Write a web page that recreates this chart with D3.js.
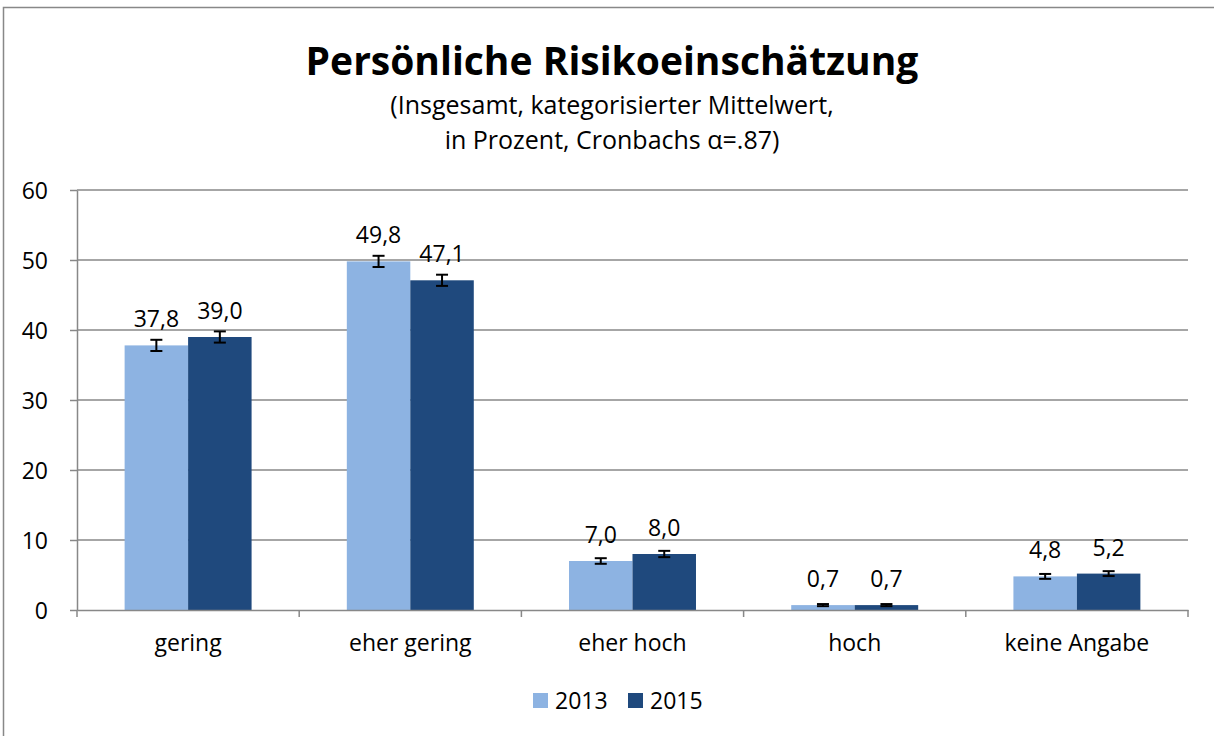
<!DOCTYPE html>
<html lang="de">
  <head>
    <meta charset="UTF-8" />
    <title>Persönliche Risikoeinschätzung</title>
    <script src="https://d3js.org/d3.v7.min.js"></script>
    <style>
      body { margin: 0; background: #fff; }
      text { font-family: "Open Sans", "Noto Sans", sans-serif; fill: #000; }
      .title { font-size: 39px; font-weight: bold; text-anchor: middle; }
      .subtitle { font-size: 25px; text-anchor: middle; }
      .axis text { font-size: 23px; }
      .axis path, .axis line { stroke: #888; stroke-width: 1.5; }
      .label { font-size: 23px; text-anchor: middle; }
    </style>
  </head>
  <body>
    <div id="chart"></div>
    <script>
      // Data
      const categories = ["gering", "eher gering", "eher hoch", "hoch", "keine Angabe"];
      const seriesNames = ["2013", "2015"];
      const values2013 = [37.8, 49.8, 7.0, 0.7, 4.8];
      const values2015 = [39.0, 47.1, 8.0, 0.7, 5.2];
      const errors2013 = [0.8, 0.8, 0.4, 0.15, 0.35];
      const errors2015 = [0.8, 0.8, 0.45, 0.15, 0.35];
      const yTicks = [0, 10, 20, 30, 40, 50, 60];

      const width = 1214;
      const height = 736;
      const margin = { top: 190, right: 26, bottom: 126, left: 77 };

      const colors = d3.scaleOrdinal().domain(seriesNames).range(["#8DB3E2", "#1F497D"]);

      const series = [
        { name: "2013", values: values2013, errors: errors2013 },
        { name: "2015", values: values2015, errors: errors2015 },
      ];

      const svg = d3.select("#chart")
        .append("svg")
        .attr("width", width)
        .attr("height", height);

      // Outer chart border
      svg.append("rect")
        .attr("x", 3.5).attr("y", 7.5)
        .attr("width", width + 10).attr("height", height + 10)
        .attr("fill", "none")
        .attr("stroke", "#888")
        .attr("stroke-width", 1.5);

      // Title
      svg.append("text").attr("class", "title").attr("x", 612).attr("y", 75)
        .text("Persönliche Risikoeinschätzung");
      svg.append("text").attr("class", "subtitle").attr("x", 612).attr("y", 114)
        .text("(Insgesamt, kategorisierter Mittelwert,");
      svg.append("text").attr("class", "subtitle").attr("x", 612).attr("y", 149)
        .text("in Prozent, Cronbachs α=.87)");

      const x0 = d3.scaleBand()
        .domain(categories)
        .range([margin.left, width - margin.right])
        .paddingInner(0.4286)
        .paddingOuter(0.2143);

      const x1 = d3.scaleBand()
        .domain(seriesNames)
        .range([0, x0.bandwidth()]);

      const y = d3.scaleLinear()
        .domain([0, 60])
        .range([height - margin.bottom, margin.top]);

      // Gridlines
      svg.append("g")
        .selectAll("line")
        .data(yTicks.filter((d) => d > 0))
        .enter()
        .append("line")
        .attr("x1", margin.left)
        .attr("x2", width - margin.right)
        .attr("y1", (d) => y(d))
        .attr("y2", (d) => y(d))
        .attr("stroke", "#888")
        .attr("stroke-width", 1.5);

      // Y axis
      const yAxis = svg.append("g")
        .attr("class", "axis")
        .attr("transform", `translate(${margin.left},0)`)
        .call(d3.axisLeft(y).tickValues(yTicks).tickSize(7).tickPadding(22).tickSizeOuter(0));
      yAxis.selectAll("text").attr("dy", "0.35em");

      // Bars
      const groups = svg.append("g")
        .selectAll("g")
        .data(series)
        .enter()
        .append("g")
        .attr("fill", (d) => colors(d.name));

      groups.selectAll("rect")
        .data((s) => categories.map((c, i) => ({ cat: c, name: s.name, v: s.values[i], e: s.errors[i] })))
        .enter()
        .append("rect")
        .attr("x", (d) => x0(d.cat) + x1(d.name))
        .attr("y", (d) => y(d.v))
        .attr("width", x1.bandwidth())
        .attr("height", (d) => y(0) - y(d.v));

      // Error bars
      const allPoints = series.flatMap((s) =>
        categories.map((c, i) => ({ cat: c, name: s.name, v: s.values[i], e: s.errors[i] }))
      );
      const cx = (d) => x0(d.cat) + x1(d.name) + x1.bandwidth() / 2;

      const eb = svg.append("g").attr("stroke", "#000").attr("stroke-width", 2);
      eb.selectAll(".stem").data(allPoints).enter().append("line")
        .attr("x1", cx).attr("x2", cx)
        .attr("y1", (d) => y(d.v + d.e)).attr("y2", (d) => y(d.v - d.e));
      eb.selectAll(".capt").data(allPoints).enter().append("line")
        .attr("x1", (d) => cx(d) - 6).attr("x2", (d) => cx(d) + 6)
        .attr("y1", (d) => y(d.v + d.e)).attr("y2", (d) => y(d.v + d.e));
      eb.selectAll(".capb").data(allPoints).enter().append("line")
        .attr("x1", (d) => cx(d) - 6).attr("x2", (d) => cx(d) + 6)
        .attr("y1", (d) => y(d.v - d.e)).attr("y2", (d) => y(d.v - d.e));

      // Value labels
      svg.append("g")
        .selectAll("text")
        .data(allPoints)
        .enter()
        .append("text")
        .attr("class", "label")
        .attr("x", cx)
        .attr("y", (d) => y(d.v) - 18)
        .text((d) => d3.format(".1f")(d.v).replace(".", ","));

      // X axis
      const xAxis = svg.append("g")
        .attr("class", "axis")
        .attr("transform", `translate(0,${y(0)})`)
        .call(d3.axisBottom(x0).tickSize(0).tickPadding(25).tickSizeOuter(0));
      xAxis.selectAll("text").attr("dy", "0.71em");

      // category boundary ticks
      const plotW = width - margin.left - margin.right;
      xAxis.selectAll(".bound")
        .data(d3.range(categories.length + 1))
        .enter()
        .append("line")
        .attr("class", "bound")
        .attr("x1", (i) => margin.left + plotW * i / categories.length)
        .attr("x2", (i) => margin.left + plotW * i / categories.length)
        .attr("y1", 0)
        .attr("y2", 7)
        .attr("stroke", "#888")
        .attr("stroke-width", 1.5);

      // Legend
      const legend = svg.append("g").attr("transform", "translate(533,693)");
      const li = legend.selectAll("g")
        .data(seriesNames)
        .enter()
        .append("g")
        .attr("transform", (d, i) => `translate(${i * 95},0)`);
      li.append("rect").attr("width", 15).attr("height", 15).attr("fill", (d) => colors(d));
      li.append("text").attr("x", 22).attr("y", 16).style("font-size", "23px").text((d) => d);
    </script>
  </body>
</html>
